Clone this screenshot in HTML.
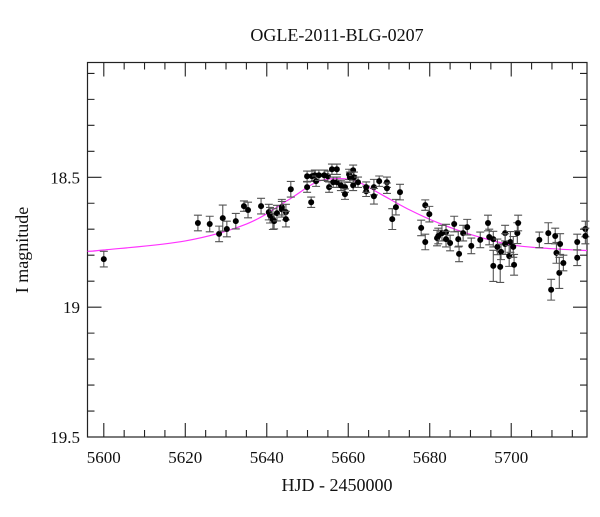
<!DOCTYPE html>
<html><head><meta charset="utf-8"><style>
body{margin:0;background:#fff}
svg text{font-family:"Liberation Serif",serif;fill:#111}
</style></head><body>
<svg id="chart" width="600" height="512" xmlns="http://www.w3.org/2000/svg">
<text x="337" y="41" font-size="18" text-anchor="middle">OGLE-2011-BLG-0207</text>
<text x="337" y="491" font-size="18" text-anchor="middle">HJD - 2450000</text>
<text x="0" y="0" font-size="18" text-anchor="middle" transform="translate(28,250) rotate(-90)">I magnitude</text>
<g id="plot"></g>
</svg>
<script>
const hjd=[5600.0,5623.1,5626.0,5628.3,5629.2,5630.2,5632.4,5634.4,5635.4,5638.6,5640.5,5640.8,5641.5,5641.8,5642.5,5643.7,5643.7,5644.7,5644.7,5645.9,5649.9,5649.9,5650.9,5651.1,5651.8,5652.1,5652.8,5654.1,5655.0,5655.3,5656.0,5656.3,5657.2,5657.2,5658.2,5659.2,5659.2,5660.2,5660.4,5661.2,5661.2,5661.4,5662.4,5664.4,5664.4,5666.3,5666.3,5667.6,5669.5,5669.5,5670.8,5671.7,5672.7,
5677.9,5678.9,5678.9,5679.9,5681.8,5682.1,5683.0,5684.0,5684.0,5685.0,5686.0,5687.0,5687.2,5688.2,5689.2,5690.2,5692.4,5694.3,5694.6,5695.6,5695.6,5696.6,5697.3,5697.5,5698.5,5698.5,5699.5,5699.8,5700.5,5700.7,5701.5,5701.7,5706.9,5709.1,5709.8,5710.8,5711.1,5711.8,5712.0,5712.8,5716.2,5716.2,5718.2,5718.2];
const mag=[18.815,18.676,18.680,18.718,18.657,18.699,18.669,18.611,18.626,18.611,18.634,18.646,18.661,18.669,18.638,18.615,18.623,18.634,18.661,18.546,18.496,18.538,18.596,18.496,18.492,18.515,18.492,18.492,18.496,18.538,18.469,18.519,18.469,18.519,18.531,18.538,18.565,18.489,18.500,18.531,18.473,18.500,18.519,18.554,18.538,18.538,18.573,18.515,18.519,18.542,18.661,18.615,18.557,
18.695,18.607,18.749,18.642,18.734,18.726,18.715,18.711,18.738,18.753,18.680,18.738,18.795,18.715,18.692,18.764,18.741,18.676,18.730,18.738,18.841,18.768,18.845,18.787,18.715,18.757,18.803,18.749,18.768,18.837,18.715,18.676,18.741,18.715,18.933,18.726,18.791,18.868,18.757,18.830,18.749,18.810,18.699,18.726];
const err=[0.03,0.03,0.03,0.03,0.05,0.03,0.03,0.02,0.03,0.03,0.03,0.03,0.04,0.03,0.03,0.03,0.03,0.03,0.03,0.03,0.02,0.02,0.02,0.02,0.02,0.02,0.02,0.02,0.02,0.02,0.02,0.02,0.02,0.02,0.02,0.02,0.02,0.02,0.02,0.02,0.02,0.02,0.02,0.02,0.02,0.03,0.03,0.02,0.02,0.02,0.04,0.03,0.03,
0.03,0.02,0.03,0.03,0.03,0.03,0.03,0.03,0.03,0.03,0.03,0.03,0.03,0.03,0.03,0.03,0.03,0.03,0.03,0.03,0.06,0.03,0.06,0.03,0.03,0.04,0.04,0.04,0.04,0.04,0.04,0.03,0.03,0.04,0.04,0.03,0.04,0.06,0.04,0.03,0.03,0.03,0.03,0.03];
const modelHjd=[5596,5600,5620,5635,5645,5652,5657,5662,5668,5675,5682,5690,5700,5710,5718.6];
const modelMag=[18.785,18.78,18.745,18.68,18.59,18.52,18.505,18.515,18.565,18.625,18.675,18.72,18.76,18.775,18.782];
const xMajor=[5600,5620,5640,5660,5680,5700];
const yMajor=[18.5,19,19.5];
const yMajorLabels=["18.5","19","19.5"];
const X0=87.5,X1=587,Y0=62.5,Y1=437;
const xd=[5596,5718.6],yd=[18.058,19.5];
const sx=v=>X0+(v-xd[0])/(xd[1]-xd[0])*(X1-X0);
const sy=v=>Y0+(v-yd[0])/(yd[1]-yd[0])*(Y1-Y0);
const NS="http://www.w3.org/2000/svg";
const g=document.getElementById('plot');
function mk(t,a){const e=document.createElementNS(NS,t);for(const k in a)e.setAttribute(k,a[k]);g.appendChild(e);return e;}
const frame=mk('rect',{x:X0,y:Y0,width:X1-X0,height:Y1-Y0,fill:'none',stroke:'#222','stroke-width':1.2});


for(let v=5600;v<=5715;v+=5){
 const major=v%20===0,L=major?14:7,x=sx(v);
 const t=mk('path',{d:`M${x},${Y1}v${-L}M${x},${Y0}v${L}`,stroke:'#222','stroke-width':1.1});
 
 
}
xMajor.forEach(v=>{const t=mk('text',{x:sx(v),y:463,'font-size':17,'text-anchor':'middle'});t.textContent=v;
 
 });
for(let i=1;i<=14;i++){
 const v=18.1+i*0.1-0.1, y=sy(v), major=Math.abs(v*2-Math.round(v*2))<1e-6, L=major?14:7;
 const t=mk('path',{d:`M${X0},${y}h${L}M${X1},${y}h${-L}`,stroke:'#222','stroke-width':1.1});
 
 
}
yMajor.forEach((v,i)=>{const t=mk('text',{x:80,y:sy(v)+6,'font-size':17,'text-anchor':'end'});t.textContent=yMajorLabels[i];
 
 });
let d='';
const P=modelHjd.map((h,i)=>[sx(h),sy(modelMag[i])]);
for(let i=0;i<P.length;i++){
 if(i===0){d+=`M${P[0][0]},${P[0][1]}`;continue;}
 const p0=P[Math.max(i-2,0)],p1=P[i-1],p2=P[i],p3=P[Math.min(i+1,P.length-1)];
 d+=`C${p1[0]+(p2[0]-p0[0])/6},${p1[1]+(p2[1]-p0[1])/6} ${p2[0]-(p3[0]-p1[0])/6},${p2[1]-(p3[1]-p1[1])/6} ${p2[0]},${p2[1]}`;
}
const m=mk('path',{d:d,fill:'none',stroke:'#ff33ff','stroke-width':1.2});


hjd.forEach((h,i)=>{
 const x=sx(h),y=sy(mag[i]),ya=sy(mag[i]-err[i]),yb=sy(mag[i]+err[i]);
 const e=mk('path',{d:`M${x},${ya}V${yb}M${x-4},${ya}h8M${x-4},${yb}h8`,stroke:'#555','stroke-width':1.1,fill:'none'});
 
 
 const c=mk('circle',{cx:x,cy:y,r:3,fill:'#000'});
 
 
});
</script>
</body></html>
